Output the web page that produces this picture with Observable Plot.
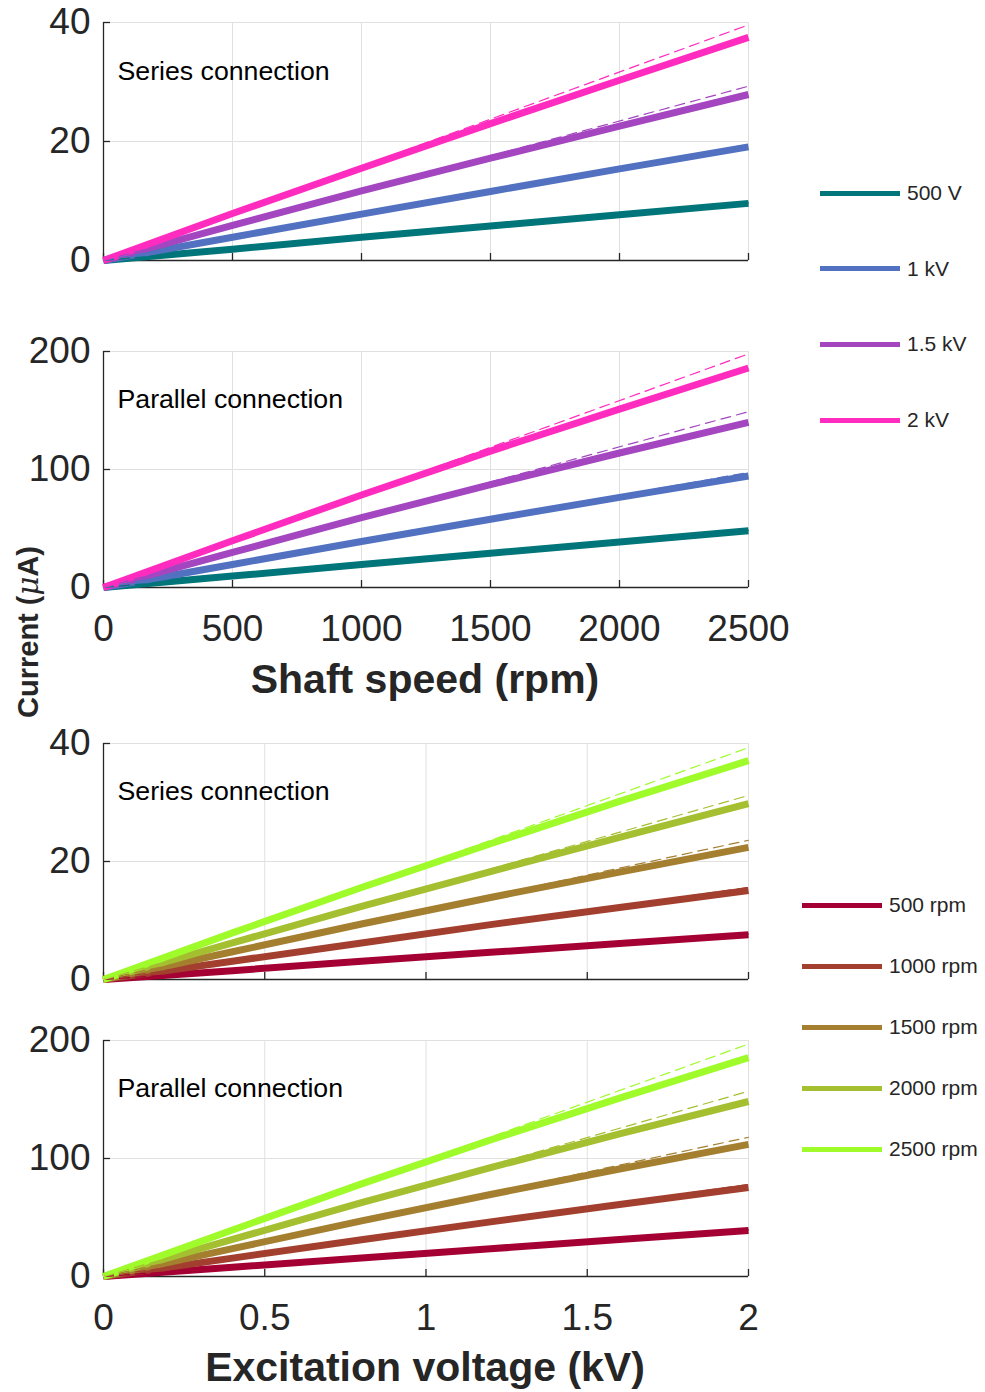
<!DOCTYPE html>
<html>
<head>
<meta charset="utf-8">
<script src="https://cdn.jsdelivr.net/npm/d3@7"></script>
<script src="https://cdn.jsdelivr.net/npm/@observablehq/plot@0.6"></script>
<style>
  html, body { margin: 0; padding: 0; background: #fff; }
  #fig { position: relative; width: 985px; height: 1392px; font-family: "Liberation Sans", Arial, Helvetica, sans-serif; color: #262626; }
  .panel { position: absolute; left: 0; }
  .title { position: absolute; font-weight: bold; white-space: nowrap; }
  .legend { position: absolute; }
  .legend .item { position: absolute; display: flex; align-items: center; font-size: 21px; white-space: nowrap; }
  .legend .swatch { width: 80px; height: 5px; margin-right: 7px; }
</style>
</head>
<body>
<div id="fig"></div>
<script>
// Shaft speed sweep (rpm) and excitation voltage sweep (kV)
const speeds = [0, 500, 1000, 1500, 2000, 2500];
const voltages = [0, 0.4, 0.8, 1.2, 1.6, 2.0];

// Series names and colours
const voltageLabels = ["500 V", "1 kV", "1.5 kV", "2 kV"];
const voltageColors = ["#00757a", "#5271c0", "#a346c0", "#ff2cbf"];
const speedLabels = ["500 rpm", "1000 rpm", "1500 rpm", "2000 rpm", "2500 rpm"];
const speedColors = ["#a50034", "#a33f2f", "#a47f2f", "#a4bf30", "#9ffb2a"];

// Measured current (µA) vs shaft speed, one row per excitation voltage
const seriesVsSpeed = [
  [0, 1.9, 3.9, 5.8, 7.7, 9.6],
  [0, 3.9, 7.8, 11.6, 15.4, 19.1],
  [0, 5.9, 11.7, 17.2, 22.6, 27.9],
  [0, 7.9, 15.5, 23.0, 30.3, 37.5]
];
const parallelVsSpeed = [
  [0, 9.7, 19.4, 29.0, 38.5, 48.0],
  [0, 19.5, 39.0, 57.9, 76.4, 94.5],
  [0, 29.8, 59.2, 87.2, 114.0, 140.0],
  [0, 39.6, 78.4, 115.6, 151.2, 186.0]
];
// Ideal linear current at 2500 rpm (dashed references from the origin)
const seriesVsSpeedIdeal = [9.7, 19.5, 29.3, 39.6];
const parallelVsSpeedIdeal = [48.5, 97.5, 149, 198];

// Measured current (µA) vs excitation voltage, one row per shaft speed
const seriesVsVoltage = [
  [0, 1.5, 3.1, 4.6, 6.1, 7.6],
  [0, 3.1, 6.2, 9.3, 12.2, 15.1],
  [0, 4.7, 9.4, 13.9, 18.2, 22.4],
  [0, 6.2, 12.4, 18.3, 24.1, 29.8],
  [0, 7.9, 15.6, 23.0, 30.2, 37.1]
];
const parallelVsVoltage = [
  [0, 7.9, 15.7, 23.5, 31.3, 39.0],
  [0, 15.6, 31.2, 46.3, 61.0, 75.4],
  [0, 23.6, 47.1, 69.5, 91.1, 112.0],
  [0, 31.4, 62.6, 92.3, 120.8, 148.3],
  [0, 39.4, 78.5, 115.7, 151.2, 185.5]
];
// Ideal linear current at 2 kV
const seriesVsVoltageIdeal = [7.7, 15.6, 23.6, 31.2, 39.3];
const parallelVsVoltageIdeal = [39.5, 78, 118, 157, 197];

// Axis ticks
const speedTicks = [0, 500, 1000, 1500, 2000, 2500];
const voltageTicks = [0, 0.5, 1, 1.5, 2];
const seriesTicks = [0, 20, 40];
const parallelTicks = [0, 100, 200];

const dark = "#262626";
const gridColor = "#e0e0e0";
const fig = document.getElementById("fig");

function panel({top, height, marginTop, marginBottom, xs, rows, ideal, labels, colors,
                xDomain, yDomain, xTicks, yTicks, showX, note, noteDy}) {
  const width = 800, marginLeft = 103, marginRight = 52;
  const plotW = width - marginLeft - marginRight;
  const plotH = height - marginTop - marginBottom;
  const solid = rows.flatMap((r, i) => r.map((v, j) => ({x: xs[j], y: v, s: labels[i]})));
  const dashed = ideal.flatMap((v, i) => [
    {x: xDomain[0], y: 0, s: labels[i]},
    {x: xDomain[1], y: v, s: labels[i]}
  ]);
  const marks = [
    Plot.gridX(xTicks, {stroke: gridColor, strokeOpacity: 1}),
    Plot.gridY(yTicks, {stroke: gridColor, strokeOpacity: 1}),
    Plot.frame({stroke: gridColor}),
    Plot.ruleX([xDomain[0]], {stroke: dark, strokeWidth: 1.3}),
    Plot.ruleY([yDomain[0]], {stroke: dark, strokeWidth: 1.3}),
    Plot.ruleX(xTicks, {x: d => d, insetTop: plotH - 7, stroke: dark, strokeWidth: 1.3}),
    Plot.ruleY(yTicks, {y: d => d, insetRight: plotW - 7, stroke: dark, strokeWidth: 1.3}),
    Plot.axisY(yTicks, {tickSize: 0, tickPadding: 13, fontSize: 37, fill: dark, label: null}),
    Plot.line(solid, {x: "x", y: "y", z: "s", stroke: "s", strokeWidth: 7,
                      strokeLinecap: "butt"}),
    Plot.line(dashed, {x: "x", y: "y", z: "s", stroke: "s", strokeWidth: 1.2,
                       strokeDasharray: "10,6"}),
    Plot.text([note], {frameAnchor: "top-left", dx: 14, dy: noteDy, textAnchor: "start",
                       lineAnchor: "middle", fontSize: 26.7, fill: "black"})
  ];
  if (showX) {
    marks.push(Plot.axisX(xTicks, {tickSize: 0, tickPadding: 27, fontSize: 37, fill: dark,
                                   label: null, tickFormat: d => String(d)}));
  }
  const svg = Plot.plot({
    width, height, marginLeft, marginRight, marginTop, marginBottom,
    x: {domain: xDomain, axis: null},
    y: {domain: yDomain, axis: null},
    color: {domain: labels, range: colors},
    style: {background: "none", fontFamily: "'Liberation Sans', Arial, Helvetica, sans-serif",
            overflow: "visible", maxWidth: "none"},
    marks
  });
  svg.classList.add("panel");
  svg.style.top = top + "px";
  fig.appendChild(svg);
}

panel({top: 0, height: 280, marginTop: 22, marginBottom: 20, xs: speeds, rows: seriesVsSpeed,
       ideal: seriesVsSpeedIdeal, labels: voltageLabels, colors: voltageColors,
       xDomain: [0, 2500], yDomain: [0, 40], xTicks: speedTicks, yTicks: seriesTicks,
       showX: false, note: "Series connection", noteDy: 49});
panel({top: 330, height: 330, marginTop: 21, marginBottom: 73, xs: speeds, rows: parallelVsSpeed,
       ideal: parallelVsSpeedIdeal, labels: voltageLabels, colors: voltageColors,
       xDomain: [0, 2500], yDomain: [0, 200], xTicks: speedTicks, yTicks: parallelTicks,
       showX: true, note: "Parallel connection", noteDy: 48});
panel({top: 720, height: 280, marginTop: 23, marginBottom: 21, xs: voltages, rows: seriesVsVoltage,
       ideal: seriesVsVoltageIdeal, labels: speedLabels, colors: speedColors,
       xDomain: [0, 2], yDomain: [0, 40], xTicks: voltageTicks, yTicks: seriesTicks,
       showX: false, note: "Series connection", noteDy: 48});
panel({top: 1018, height: 330, marginTop: 22, marginBottom: 72, xs: voltages, rows: parallelVsVoltage,
       ideal: parallelVsVoltageIdeal, labels: speedLabels, colors: speedColors,
       xDomain: [0, 2], yDomain: [0, 200], xTicks: voltageTicks, yTicks: parallelTicks,
       showX: true, note: "Parallel connection", noteDy: 48});

// Axis titles
function title(html, css) {
  const d = document.createElement("div");
  d.className = "title";
  d.innerHTML = html;
  Object.assign(d.style, css);
  fig.appendChild(d);
}
title("Shaft speed (rpm)", {left: "425px", top: "679px", fontSize: "41px",
      transform: "translate(-50%, -50%)"});
title("Excitation voltage (kV)", {left: "425px", top: "1367px", fontSize: "41px",
      transform: "translate(-50%, -50%)"});
title("Current (<span style=\"font-style:italic;font-weight:normal;font-family:'DejaVu Serif',serif\">μ</span>A)",
      {left: "28px", top: "632px", fontSize: "29px",
       transform: "translate(-50%, -50%) rotate(-90deg)"});

// Legends
function legend(labels, colors, left, top, step) {
  const box = document.createElement("div");
  box.className = "legend";
  box.style.left = left + "px";
  box.style.top = top + "px";
  labels.forEach((lab, i) => {
    const it = document.createElement("div");
    it.className = "item";
    it.style.top = (i * step - 12) + "px";
    it.innerHTML = `<span class="swatch" style="background:${colors[i]}"></span><span>${lab}</span>`;
    box.appendChild(it);
  });
  fig.appendChild(box);
}
legend(voltageLabels, voltageColors, 820, 193, 75.7);
legend(speedLabels, speedColors, 802, 905, 61);
</script>
</body>
</html>
